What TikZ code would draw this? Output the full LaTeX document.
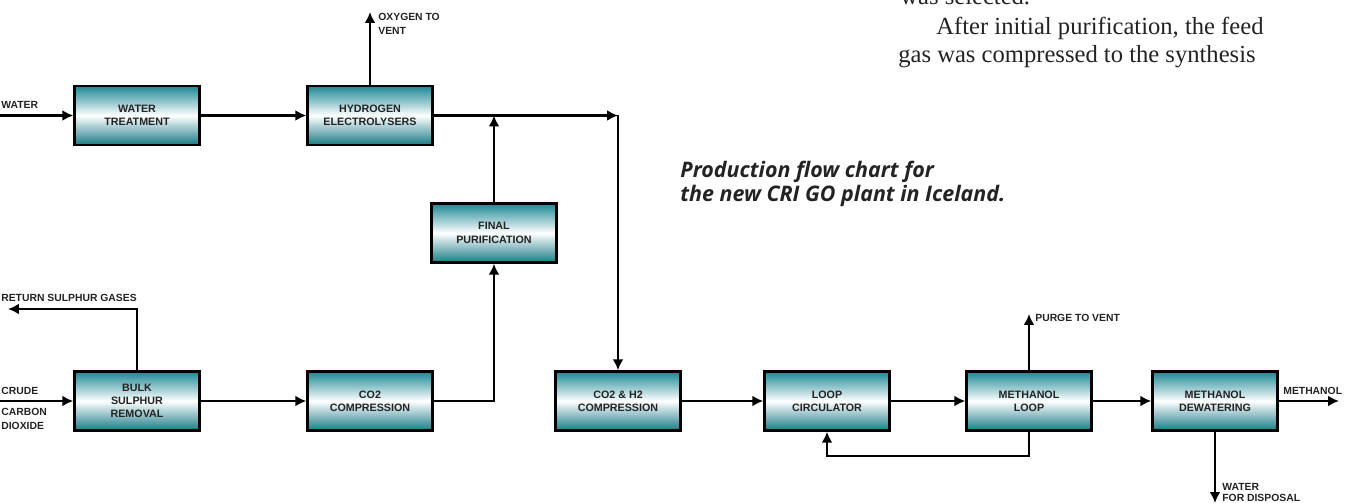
\documentclass[tikz,border=0pt]{standalone}
\usepackage{fontspec}
\setmainfont{Liberation Serif}
\newfontfamily\labelfont{Liberation Sans}
\newfontfamily\capfont{Open Sans}
\usepackage{xcolor}
\usepackage{tikz}
\usetikzlibrary{arrows.meta, positioning, calc}
\definecolor{boxteal}{RGB}{28,135,148}
\definecolor{inkgray}{RGB}{35,35,35}
\tikzset{
  unit/.style={draw, line width=1.4pt, minimum width=2.5cm, minimum height=1.18cm, align=center,
    top color=boxteal, bottom color=boxteal!90!black, middle color=white, text=inkgray,
    font=\labelfont\bfseries\fontsize{6.1}{7.6}\selectfont},
  tag/.style={inner sep=0pt, align=left, text=inkgray, font=\labelfont\bfseries\fontsize{5.9}{7.8}\selectfont},
  flow/.style={-{Latex[length=2.2mm, width=2.2mm]}, line width=1.4pt}
}

\begin{document}
\begin{tikzpicture}[x=0.02cm, y=-0.02cm]
        \useasboundingbox (0,0) rectangle (1352,503);
        \clip (0,0) rectangle (1352,503);

        % Process units
        \node[unit] (water)     at (137,115.5)  {WATER\\TREATMENT};
        \node[unit] (h2elec)    at (370,115.5)  {HYDROGEN\\ELECTROLYSERS};
        \node[unit] (finalpur)  at (494,233)    {FINAL\\PURIFICATION};
        \node[unit] (bulksul)   at (137,401)    {BULK\\SULPHUR\\REMOVAL};
        \node[unit] (co2comp)   at (370,401)    {CO2\\COMPRESSION};
        \node[unit] (co2h2comp) at (618,401)    {CO2 \& H2\\COMPRESSION};
        \node[unit] (loopcirc)  at (827,401)    {LOOP\\CIRCULATOR};
        \node[unit] (meohloop)  at (1029,401)   {METHANOL\\LOOP};
        \node[unit] (meohdew)   at (1215,401)   {METHANOL\\DEWATERING};

        % Free ends
        \coordinate (waterin) at (-5,115.5);
        \coordinate (crudein) at (-5,401);
        \coordinate (o2vent)  at (370,12);
        \coordinate (h2turn)  at (618,115.5);
        \coordinate (sulret)  at (8,309);
        \coordinate (purge)   at (1029,314);
        \coordinate (recycle) at (827,456);
        \coordinate (meohout) at (1339,401);
        \coordinate (wdisp)   at (1215,503);

        % Stream labels
        \node[tag, anchor=south west] (lwater)  at (1,109)  {WATER};
        \node[tag, anchor=south west] (lcrude)  at (1,395)  {CRUDE};
        \node[tag, anchor=north west] (lco2)    at (1,408)  {CARBON\\DIOXIDE};
        \node[tag, anchor=south west] (lsul)    at (1,302)  {RETURN SULPHUR GASES};
        \node[tag, anchor=north west] (lo2)     at (378,13)  {OXYGEN TO\\VENT};
        \node[tag, anchor=west]       (lpurge)  at (1035,318) {PURGE TO VENT};
        \node[tag, anchor=south west] (lmeoh)   at (1283,395) {METHANOL};
        \node[tag, anchor=south west, font=\labelfont\bfseries\fontsize{5.9}{6.4}\selectfont]
          (lwdisp) at (1222,502) {WATER\\FOR DISPOSAL};

        % Streams
        \draw[flow] (waterin) -- (water.west);
        \draw[flow] (water.east) -- (h2elec.west);
        \draw[flow] (h2elec.north) -- (o2vent);
        \draw[flow] (h2elec.east) -- (h2turn);
        \draw[flow] (h2turn) -- (co2h2comp.north);
        \draw[flow] (finalpur.north) -- (finalpur.north |- h2elec.east);
        \draw[flow] (crudein) -- (bulksul.west);
        \draw[flow] (bulksul.north) |- (sulret);
        \draw[flow] (bulksul.east) -- (co2comp.west);
        \draw[flow] (co2comp.east) -| (finalpur.south);
        \draw[flow] (co2h2comp.east) -- (loopcirc.west);
        \draw[flow] (loopcirc.east) -- (meohloop.west);
        \draw[flow] (meohloop.north) -- (purge);
        \draw[flow] (meohloop.south) |- (recycle) -- (loopcirc.south);
        \draw[flow] (meohloop.east) -- (meohdew.west);
        \draw[flow] (meohdew.east) -- (meohout);
        \draw[flow] (meohdew.south) -- (wdisp);

        % Caption
        \node[anchor=west, align=left, inner sep=0pt, text=inkgray, font=\capfont\bfseries\itshape\fontsize{12.2}{13.8}\selectfont]
          (caption) at (680,184) {Production flow chart for\\the new CRI GO plant in Iceland.};

        % Running text
        \node[anchor=base west, inner sep=0pt, text=inkgray, font=\fontsize{14}{16}\selectfont] (txtA) at (900,5) {was selected.};
        \node[anchor=base west, inner sep=0pt, text=inkgray, font=\fontsize{14}{16}\selectfont] (txtB) at (936,35) {After initial purification, the feed};
        \node[anchor=base west, inner sep=0pt, text=inkgray, font=\fontsize{14}{16}\selectfont] (txtC) at (898,63) {gas was compressed to the synthesis};
\end{tikzpicture}
\end{document}
